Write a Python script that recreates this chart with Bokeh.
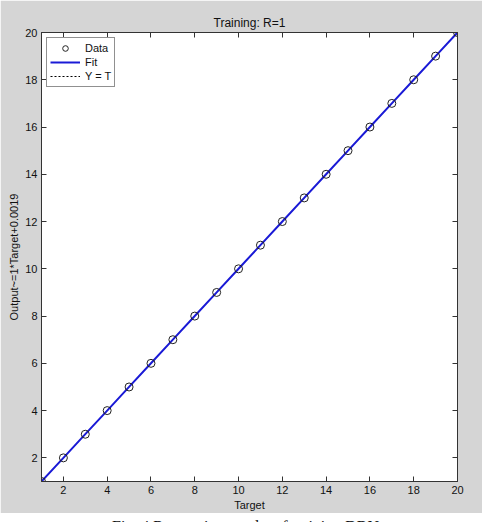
from bokeh.plotting import figure
from bokeh.models import LinearAxis, Range1d, Legend, LegendItem, FixedTicker, Div
from bokeh.layouts import column
from bokeh.embed import file_html
from bokeh.resources import INLINE

# Data
target = [1, 2, 3, 4, 5, 6, 7, 8, 9, 10, 11, 12, 13, 14, 15, 16, 17, 18, 19, 20]
output = [1, 2, 3, 4, 5, 6, 7, 8, 9, 10, 11, 12, 13, 14, 15, 16, 17, 18, 19, 20]
fit_slope = 1.0
fit_intercept = 0.0019
x_ticks = [2, 4, 6, 8, 10, 12, 14, 16, 18, 20]
y_ticks = [2, 4, 6, 8, 10, 12, 14, 16, 18, 20]
title_text = "Training: R=1"
x_label = "Target"
y_label = "Output~=1*Target+0.0019"
caption = "Fig. 4 Regression results of training DBN"

FONT = "Liberation Sans"
GRAY = "#d5d5d5"
AXC = "#333333"

p = figure(width=482, height=513, output_backend="svg", toolbar_location=None,
           x_range=Range1d(1, 20), y_range=Range1d(1, 20),
           min_border_left=41, min_border_right=25, min_border_top=32, min_border_bottom=32,
           background_fill_color="white", border_fill_color=GRAY)
p.title.text = title_text
p.title.align = "center"
p.title.text_font = FONT
p.title.text_font_size = "12px"
p.title.text_font_style = "normal"
p.title.text_color = "#111111"
p.title.standoff = 6
p.xgrid.visible = False
p.ygrid.visible = False
p.outline_line_color = AXC
p.outline_line_width = 1

for ax, ticks, lab in ((p.xaxis[0], x_ticks, x_label), (p.yaxis[0], y_ticks, y_label)):
    ax.ticker = FixedTicker(ticks=ticks)
    ax.axis_label = lab
    ax.axis_label_text_font = FONT
    ax.axis_label_text_font_size = "11px"
    ax.axis_label_text_font_style = "normal"
    ax.axis_label_text_color = "#111111"
    ax.axis_label_standoff = 2
    ax.major_label_text_font = FONT
    ax.major_label_text_font_size = "11px"
    ax.major_label_text_color = "#111111"
    ax.major_tick_in = 5
    ax.major_tick_out = 0
    ax.minor_tick_in = 0
    ax.minor_tick_out = 0
    ax.axis_line_color = AXC
    ax.major_tick_line_color = AXC
    ax.major_label_standoff = 4

for loc, ticks in (("above", x_ticks), ("right", y_ticks)):
    a = LinearAxis(ticker=FixedTicker(ticks=ticks))
    a.major_label_text_font_size = "0px"
    a.major_label_text_color = None
    a.major_tick_in = 5
    a.major_tick_out = 0
    a.minor_tick_in = 0
    a.minor_tick_out = 0
    a.axis_line_color = AXC
    a.major_tick_line_color = AXC
    a.major_label_standoff = 0
    p.add_layout(a, loc)

fit_y = [fit_slope * t + fit_intercept for t in target]

r_yt = p.line(target, target, line_color="black", line_width=1, line_dash="2 2")
r_fit = p.line(target, fit_y, line_color="#1a1ad6", line_width=2)
r_data = p.scatter(target, output, marker="circle", size=8, fill_color=None,
                   line_color="#222222", line_width=1)

legend = Legend(items=[LegendItem(label="Data", renderers=[r_data]),
                       LegendItem(label="Fit", renderers=[r_fit]),
                       LegendItem(label="Y = T", renderers=[r_yt])],
                location="top_left")
legend.label_text_font = FONT
legend.label_text_font_size = "11px"
legend.label_text_color = "#111111"
legend.border_line_color = "#222222"
legend.border_line_width = 1
legend.background_fill_color = "white"
legend.background_fill_alpha = 1
legend.margin = 5
legend.padding = 3
legend.spacing = 0
legend.label_height = 14
legend.glyph_height = 14
legend.glyph_width = 30
legend.label_standoff = 5
p.add_layout(legend)

div = Div(text=caption, width=486, height=20,
          styles={"font-family": "Liberation Serif", "font-size": "16px",
                  "color": "#111111", "padding-left": "107px", "margin-top": "3px"})

layout = column(p, div, spacing=0)
open("out.html", "w").write(file_html(layout, INLINE))
